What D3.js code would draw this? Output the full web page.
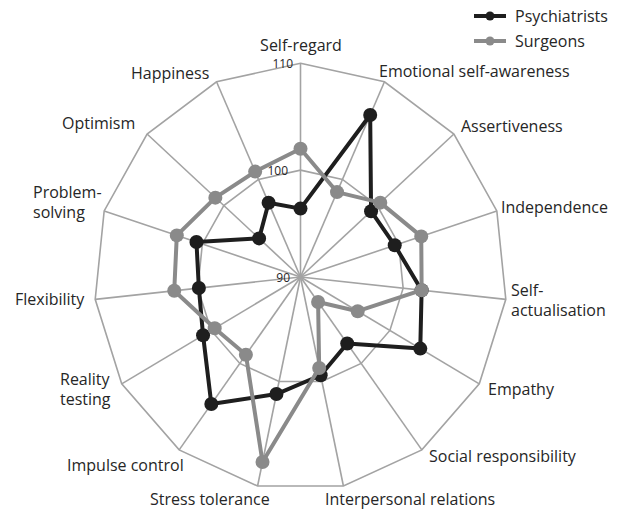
<!DOCTYPE html>
<html>
<head>
<meta charset="utf-8">
<script src="https://cdn.jsdelivr.net/npm/d3@7"></script>
<style>
  body { margin: 0; background: #fff; }
  text { font-family: "Open Sans", "Noto Sans", sans-serif; fill: #262626; }
</style>
</head>
<body>
<svg id="chart" width="621" height="510"></svg>
<script>
// axes, clockwise from the top
const categories = ["Self-regard", "Emotional self-awareness", "Assertiveness", "Independence",
  "Self-actualisation", "Empathy", "Social responsibility", "Interpersonal relations",
  "Stress tolerance", "Impulse control", "Reality testing", "Flexibility",
  "Problem-solving", "Optimism", "Happiness"]
const psychiatrists = [96.4, 106.6, 99.2, 99.6, 101.8, 103.4, 97.7, 99.4, 101.2, 104.7, 100.9, 99.9, 100.6, 95.4, 97.6]
const surgeons = [102.0, 98.7, 100.4, 102.3, 101.8, 96.4, 92.9, 98.7, 107.7, 99.0, 99.6, 102.3, 102.6, 101.1, 100.8]
const ringValues = [90, 100, 110]
const seriesNames = ["Psychiatrists", "Surgeons"]

var cx = 300.5, cy = 277,
    sx = 0.966, // picture is a bit narrower than tall
    r = d3.scaleLinear().domain([90, 110]).range([0, 213.7]),
    angle = d3.scalePoint().domain(categories).range([0, 2 * Math.PI * 14 / 15])

function px(cat, v) { return cx + r(v) * Math.sin(angle(cat)) * sx }
function py(cat, v) { return cy - r(v) * Math.cos(angle(cat)) }

var svg = d3.select("#chart")
var grid = svg.append("g")

// rings at 100 and 110
ringValues.slice(1).forEach(function (v) {
    grid.append("path")
        .attr("d", d3.line()(categories.map(c => [px(c, v), py(c, v)])) + "Z")
        .attr("fill", "none")
        .attr("stroke", "#a3a3a3")
        .attr("stroke-width", 1.6)
})

grid.selectAll("line.spoke").data(categories).enter().append("line")
    .attr("class", "spoke")
    .attr("x1", cx).attr("y1", cy)
    .attr("x2", c => px(c, 110)).attr("y2", c => py(c, 110))
    .attr("stroke", "#a3a3a3")
    .attr("stroke-width", 1.6)

// ring value labels
var ringLabelPos = { 90: [290, 282], 100: [288, 175], 110: [293, 68] }
ringValues.forEach(function (v) {
    svg.append("text")
        .attr("x", ringLabelPos[v][0]).attr("y", ringLabelPos[v][1])
        .attr("text-anchor", "end")
        .attr("font-size", 12)
        .attr("fill", "#333")
        .text(v)
})

function drawSeries(values, color) {
    var pts = categories.map((c, i) => [px(c, values[i]), py(c, values[i])])
    svg.append("path")
        .attr("d", d3.line()(pts) + "Z")
        .attr("fill", "none")
        .attr("stroke", color)
        .attr("stroke-width", 4)
        .attr("stroke-linejoin", "round")
    svg.append("g").selectAll("circle").data(pts).enter().append("circle")
        .attr("cx", d => d[0]).attr("cy", d => d[1])
        .attr("r", 7)
        .attr("fill", color)
}
drawSeries(psychiatrists, "#1e1e1e")
drawSeries(surgeons, "#8a8a8a")

// category labels (placed by hand around the web)
var labelPos = [
    { x: 301, y: 51, anchor: "middle" },
    { x: 379, y: 77, anchor: "start" },
    { x: 461, y: 132, anchor: "start" },
    { x: 501, y: 213, anchor: "start" },
    { x: 511, y: 296, anchor: "start", lines: ["Self-", "actualisation"] },
    { x: 488, y: 395, anchor: "start" },
    { x: 429, y: 462, anchor: "start" },
    { x: 325, y: 505, anchor: "start" },
    { x: 150, y: 505, anchor: "start" },
    { x: 67, y: 471, anchor: "start" },
    { x: 60, y: 385, anchor: "start", lines: ["Reality", "testing"] },
    { x: 15, y: 305, anchor: "start" },
    { x: 33, y: 198, anchor: "start", lines: ["Problem-", "solving"] },
    { x: 62, y: 129, anchor: "start" },
    { x: 131, y: 79, anchor: "start" }
]
categories.forEach(function (c, i) {
    var p = labelPos[i]
    var t = svg.append("text")
        .attr("x", p.x).attr("y", p.y)
        .attr("text-anchor", p.anchor)
        .attr("font-size", 16)
    var lines = p.lines || [c]
    lines.forEach(function (l, j) {
        t.append("tspan").attr("x", p.x).attr("dy", j ? 20 : 0).text(l)
    })
})

// legend
var legend = svg.append("g")
seriesNames.forEach(function (name, i) {
    var color = i ? "#8a8a8a" : "#1e1e1e", y = 16 + i * 25
    legend.append("line").attr("x1", 474).attr("x2", 506).attr("y1", y).attr("y2", y)
        .attr("stroke", color).attr("stroke-width", 4)
    legend.append("circle").attr("cx", 490).attr("cy", y).attr("r", 4.5).attr("fill", color)
    legend.append("text").attr("x", 515).attr("y", y + 6).attr("font-size", 16).text(name)
})
</script>
</body>
</html>
